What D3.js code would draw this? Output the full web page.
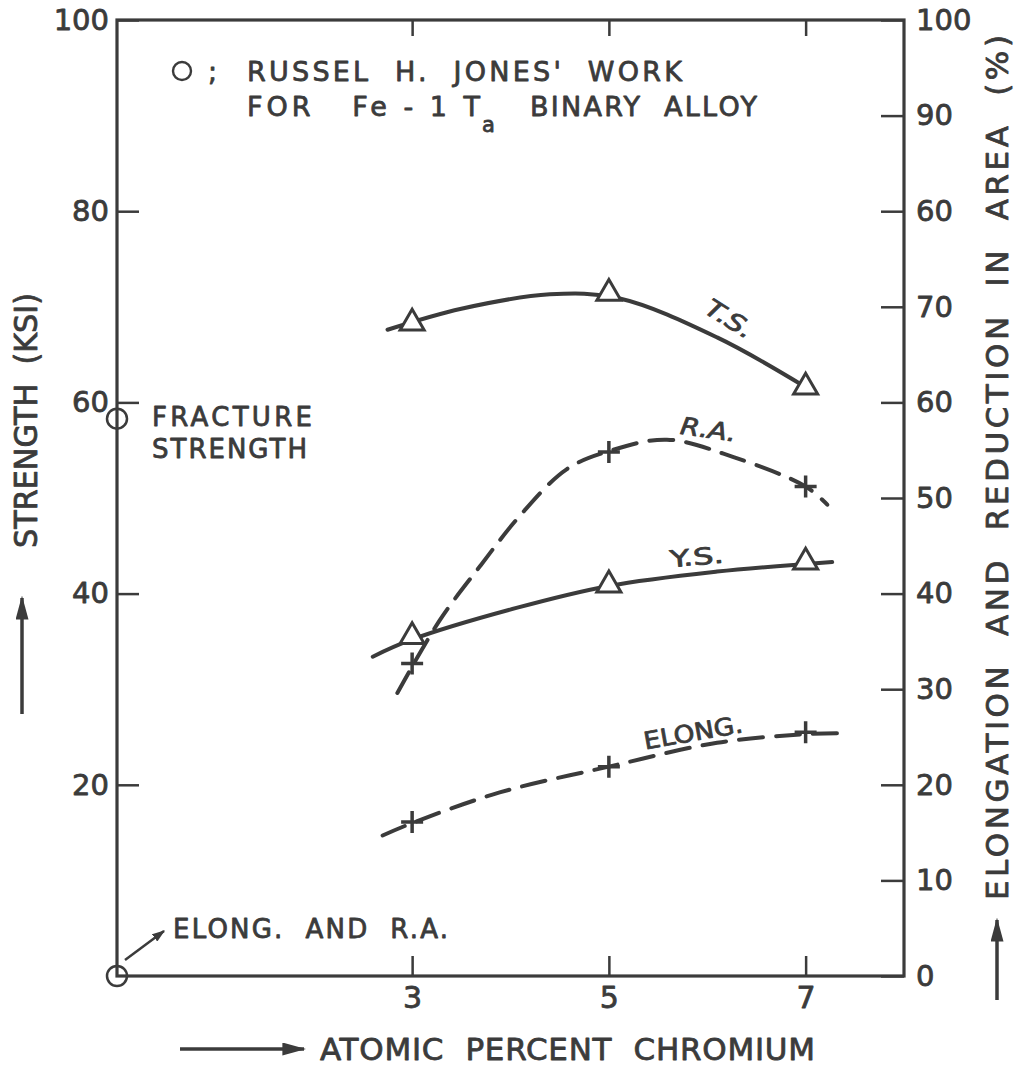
<!DOCTYPE html>
<html>
<head>
<meta charset="utf-8">
<script src="https://cdn.jsdelivr.net/npm/d3@7"></script>
<style>
  html, body { margin: 0; padding: 0; background: #fff; }
  svg { display: block; }
  text { font-family: "DejaVu Sans", "Liberation Sans", sans-serif; fill: #3b3b3b; white-space: pre;
         stroke: #3b3b3b; stroke-width: 0.8px; stroke-linejoin: round; }
</style>
</head>
<body>
<svg id="chart" width="1018" height="1072"></svg>
<script>
// ---------------- data ----------------
const xMarks = [3, 5, 7];                       // atomic percent chromium of measured alloys
const tsValues = [68.3, 71.4, 61.6];            // tensile strength (KSI)
const ysValues = [35.5, 40.9, 43.3];            // yield strength (KSI)
const raValues = [32.7, 54.8, 51.2];            // reduction in area (%)
const elongValues = [16.1, 21.9, 25.5];         // elongation (%)

// hand-faired curves
const tsCurveX = [2.75, 3.5, 4.4, 5.1, 6.1, 7.0];
const tsCurveY = [67.6, 69.8, 71.3, 70.9, 66.8, 61.6];
const ysCurveX = [2.6, 3.0, 4.06, 5.0, 6.1, 7.0, 7.27];
const ysCurveY = [33.4, 35.2, 38.5, 40.8, 42.3, 43.1, 43.3];
const raCurveX = [2.85, 3.28, 3.7, 4.1, 4.57, 5.0, 5.59, 6.26, 7.0, 7.22];
const raCurveY = [29.6, 37.2, 43.0, 48.2, 53.0, 54.9, 56.1, 54.3, 51.2, 49.3];
const elongCurveX = [2.7, 3.0, 3.89, 5.0, 6.1, 7.0, 7.32];
const elongCurveY = [14.7, 16.0, 19.2, 21.9, 24.4, 25.3, 25.4];

// Russel H. Jones' Fe-1Ta binary alloy (at 0 % Cr)
const jonesX = [0, 0];
const jonesY = [58.3, 0];

// axes
const xDomain = [0, 8];
const yDomain = [0, 100];
const xTicks = [3, 5, 7];
const leftTicks = [20, 40, 60, 80, 100];
const rightTicks = [0, 10, 20, 30, 40, 50, 60, 70, 80, 90, 100];
const rightTickLabels = ["0", "10", "20", "30", "40", "50", "60", "70", "60", "90", "100"];

// ---------------- drawing ----------------
const ink = "#3b3b3b";
const svg = d3.select("#chart");
svg.append("rect").attr("width", 1018).attr("height", 1072).attr("fill", "#fff");

const x = d3.scaleLinear().domain(xDomain).range([117, 904]);
const y = d3.scaleLinear().domain(yDomain).range([976, 20]);

const defs = svg.append("defs");
defs.append("marker").attr("id", "ah").attr("viewBox", "0 0 10 10")
  .attr("refX", 9).attr("refY", 5).attr("markerWidth", 13).attr("markerHeight", 9)
  .attr("markerUnits", "userSpaceOnUse").attr("orient", "auto").attr("preserveAspectRatio", "none")
  .append("path").attr("d", "M0,0 L10,5 L0,10 z").attr("fill", ink);
defs.append("marker").attr("id", "ahBig").attr("viewBox", "0 0 10 10")
  .attr("refX", 9).attr("refY", 5).attr("markerWidth", 24).attr("markerHeight", 13)
  .attr("markerUnits", "userSpaceOnUse").attr("orient", "auto").attr("preserveAspectRatio", "none")
  .append("path").attr("d", "M0,0 L10,5 L0,10 z").attr("fill", ink);

// frame
svg.append("rect")
  .attr("x", x(xDomain[0])).attr("y", y(yDomain[1]))
  .attr("width", x(xDomain[1]) - x(xDomain[0]))
  .attr("height", y(yDomain[0]) - y(yDomain[1]))
  .attr("fill", "none").attr("stroke", ink).attr("stroke-width", 3.2);

function styleAxis(g, size) {
  g.select(".domain").remove();
  g.selectAll(".tick line").attr("stroke", ink).attr("stroke-width", 2.5);
  g.selectAll(".tick text").attr("fill", ink).style("font-size", size + "px")
    .style("font-family", '"DejaVu Sans", sans-serif');
}

svg.append("g").attr("transform", `translate(${x(0)},0)`)
  .call(d3.axisLeft(y).tickValues(leftTicks).tickSize(-22).tickPadding(8))
  .call(g => styleAxis(g, 29));

svg.append("g").attr("transform", `translate(${x(8)},0)`)
  .call(d3.axisRight(y).tickValues(rightTicks).tickSize(-23).tickPadding(12)
    .tickFormat((d, i) => rightTickLabels[i]))
  .call(g => styleAxis(g, 29));

svg.append("g").attr("transform", `translate(0,${y(0)})`)
  .call(d3.axisBottom(x).tickValues(xTicks).tickSize(-20).tickPadding(11))
  .call(g => styleAxis(g, 30));

svg.append("g").attr("transform", `translate(0,${y(100)})`)
  .call(d3.axisTop(x).tickValues(xTicks).tickSize(-16).tickFormat(""))
  .call(g => styleAxis(g, 28));

// curves
const zip = (xs, ys) => xs.map((v, i) => [v, ys[i]]);
const line = d3.line().x(d => x(d[0])).y(d => y(d[1])).curve(d3.curveCatmullRom.alpha(0.5));

function curve(xs, ys, dashed) {
  svg.append("path").datum(zip(xs, ys)).attr("d", line)
    .attr("fill", "none").attr("stroke", ink).attr("stroke-width", 4)
    .attr("stroke-linecap", "round")
    .attr("stroke-dasharray", dashed ? "24,13" : null);
}
curve(tsCurveX, tsCurveY, false);
curve(ysCurveX, ysCurveY, false);
curve(raCurveX, raCurveY, true);
curve(elongCurveX, elongCurveY, true);

// markers
const tri = d3.symbol().type(d3.symbolTriangle).size(250);
function triangles(vals) {
  svg.append("g").selectAll("path").data(zip(xMarks, vals)).join("path")
    .attr("d", tri).attr("transform", d => `translate(${x(d[0])},${y(d[1])})`)
    .attr("fill", "#fff").attr("stroke", ink).attr("stroke-width", 3).attr("stroke-linejoin", "miter");
}
function crosses(vals) {
  svg.append("g").selectAll("path").data(zip(xMarks, vals)).join("path")
    .attr("d", "M-11,0 L11,0 M0,-11 L0,11")
    .attr("transform", d => `translate(${x(d[0])},${y(d[1])})`)
    .attr("fill", "none").attr("stroke", ink).attr("stroke-width", 3.5);
}
triangles(tsValues);
triangles(ysValues);
crosses(raValues);
crosses(elongValues);

svg.append("g").selectAll("circle").data(zip(jonesX, jonesY)).join("circle")
  .attr("cx", d => x(d[0])).attr("cy", d => y(d[1])).attr("r", 10)
  .attr("fill", "none").attr("stroke", ink).attr("stroke-width", 2.5);

// text helper
function label(str, px, py, size, opt = {}) {
  const t = svg.append("text").attr("x", px).attr("y", py)
    .style("font-size", size + "px")
    .attr("text-anchor", opt.anchor || "start")
    .text(str);
  if (opt.width) t.attr("textLength", opt.width).attr("lengthAdjust", opt.adjust || "spacing");
  if (opt.rotate) t.attr("transform", `rotate(${opt.rotate},${px},${py})`);
  if (opt.italic) t.style("font-style", "italic");
  return t;
}

// curve labels
label("T.S.", x(6.18), y(68.0), 24, { anchor: "middle", rotate: 32, italic: true, width: 52, adjust: "spacingAndGlyphs" });
label("R.A.", x(6.0), y(56.3), 24, { anchor: "middle", rotate: 8, italic: true, width: 56, adjust: "spacingAndGlyphs" });
label("Y.S.", x(5.9), y(43.0), 23, { anchor: "middle", rotate: -5, width: 54, adjust: "spacingAndGlyphs" });
label("ELONG.", x(5.87), y(24.6), 24, { anchor: "middle", rotate: -10, width: 100, adjust: "spacingAndGlyphs" });

// annotation block
svg.append("circle").attr("cx", 182).attr("cy", 71).attr("r", 9)
  .attr("fill", "none").attr("stroke", ink).attr("stroke-width", 2.4);
label(";", 208, 81, 27);
label("RUSSEL  H.  JONES'  WORK", 247, 81, 27, { width: 435 });
label("FOR   Fe - 1 T", 247, 116, 27, { width: 233 });
label("a", 482, 132, 21);
label("BINARY  ALLOY", 530, 116, 27, { width: 227 });

label("FRACTURE", 152, 426, 26, { width: 160 });
label("STRENGTH", 152, 458, 26, { width: 155 });

label("ELONG.  AND  R.A.", 173, 938, 26, { width: 275 });
svg.append("line").attr("x1", 125).attr("y1", 960).attr("x2", 164).attr("y2", 931)
  .attr("stroke", ink).attr("stroke-width", 2.5).attr("marker-end", "url(#ah)");

// axis titles
label("STRENGTH  (KSI)", 37, 548, 32, { width: 255, rotate: -90, adjust: "spacingAndGlyphs" });
svg.append("line").attr("x1", 22).attr("y1", 714).attr("x2", 22).attr("y2", 598)
  .attr("stroke", ink).attr("stroke-width", 3.5).attr("marker-end", "url(#ahBig)");

label("ATOMIC  PERCENT  CHROMIUM", 320, 1060, 31, { width: 495 });
svg.append("line").attr("x1", 180).attr("y1", 1049).attr("x2", 304).attr("y2", 1049)
  .attr("stroke", ink).attr("stroke-width", 3.5).attr("marker-end", "url(#ahBig)");

label("ELONGATION  AND  REDUCTION  IN  AREA  (%)", 1008, 900, 31, { width: 865, rotate: -90 });
svg.append("line").attr("x1", 997).attr("y1", 1000).attr("x2", 997).attr("y2", 920)
  .attr("stroke", ink).attr("stroke-width", 3.5).attr("marker-end", "url(#ahBig)");
</script>
</body>
</html>
